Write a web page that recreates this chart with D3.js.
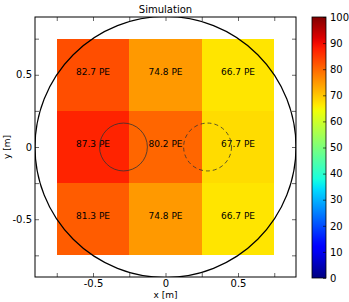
<!DOCTYPE html>
<html>
<head>
<meta charset="utf-8">
<script src="https://cdn.jsdelivr.net/npm/d3@7"></script>
<style>
  body { margin: 0; background: #fff; }
  text { font-family: "DejaVu Sans", sans-serif; }
</style>
</head>
<body>
<div id="chart"></div>
<script>
// cell centres and values
const xCenters = [-0.5, 0, 0.5];
const yCenters = [0.5, 0, -0.5];
const cellValues = [
  [82.7, 74.8, 66.7],
  [87.3, 80.2, 67.7],
  [81.3, 74.8, 66.7]
];
const cellSize = 0.5;
const axisTicks = [-0.75, -0.5, -0.25, 0, 0.25, 0.5, 0.75];
const axisLabels = [-0.5, 0, 0.5];
const cbarTicks = [0, 10, 20, 30, 40, 50, 60, 70, 80, 90, 100];
// circles: [cx, cy, r, dashed]
const circles = [
  [0, 0, 0.9, false],
  [-0.29, 0, 0.165, false],
  [0.29, 0, 0.165, true]
];

const W = 349, H = 302;
const plot = {left: 35, top: 17, right: 296, bottom: 277};

const svg = d3.select("#chart").append("svg")
  .attr("width", W).attr("height", H);

const x = d3.scaleLinear().domain([-0.9, 0.9]).range([plot.left, plot.right]);
const y = d3.scaleLinear().domain([-0.9, 0.9]).range([plot.bottom, plot.top]);

// matplotlib jet colormap
const jetR = d3.scaleLinear().domain([0, 0.35, 0.66, 0.89, 1]).range([0, 0, 1, 1, 0.5]).clamp(true);
const jetG = d3.scaleLinear().domain([0, 0.125, 0.375, 0.64, 0.91, 1]).range([0, 0, 1, 1, 0, 0]).clamp(true);
const jetB = d3.scaleLinear().domain([0, 0.11, 0.34, 0.65, 1]).range([0.5, 1, 1, 0, 0]).clamp(true);
const jet = t => d3.rgb(jetR(t) * 255, jetG(t) * 255, jetB(t) * 255).toString();
const norm = d3.scaleLinear().domain([0, 100]).range([0, 1]);

svg.append("clipPath").attr("id", "clip")
  .append("rect")
  .attr("x", plot.left).attr("y", plot.top)
  .attr("width", plot.right - plot.left).attr("height", plot.bottom - plot.top);

const cells = [];
yCenters.forEach((cy, i) => xCenters.forEach((cx, j) => cells.push({cx, cy, v: cellValues[i][j]})));

const g = svg.append("g").attr("clip-path", "url(#clip)");

g.selectAll("rect.cell").data(cells).join("rect")
  .attr("class", "cell")
  .attr("x", d => x(d.cx - cellSize / 2))
  .attr("y", d => y(d.cy + cellSize / 2))
  .attr("width", d => x(d.cx + cellSize / 2) - x(d.cx - cellSize / 2))
  .attr("height", d => y(d.cy - cellSize / 2) - y(d.cy + cellSize / 2))
  .attr("fill", d => jet(norm(d.v)))
  .attr("shape-rendering", "crispEdges");

g.selectAll("text.val").data(cells).join("text")
  .attr("class", "val")
  .attr("x", d => x(d.cx))
  .attr("y", d => y(d.cy))
  .attr("text-anchor", "middle")
  .attr("font-size", 9)
  .attr("fill", "#000")
  .text(d => d.v.toFixed(1) + " PE");

g.selectAll("circle").data(circles).join("circle")
  .attr("cx", d => x(d[0]))
  .attr("cy", d => y(d[1]))
  .attr("r", d => x(d[2]) - x(0))
  .attr("fill", "none")
  .attr("stroke", (d, i) => i === 0 ? "#000" : "#333")
  .attr("stroke-width", (d, i) => i === 0 ? 1.2 : 0.8)
  .attr("stroke-dasharray", d => d[3] ? "4,3" : null);

// axes with inward ticks on all sides
const fmt = v => axisLabels.includes(v) ? String(v) : "";
const axes = svg.append("g").attr("font-size", 9);
axes.append("g").attr("transform", `translate(0,${plot.bottom})`)
  .call(d3.axisBottom(x).tickValues(axisTicks).tickSize(-4).tickPadding(3).tickFormat(fmt));
axes.append("g").attr("transform", `translate(0,${plot.top})`)
  .call(d3.axisTop(x).tickValues(axisTicks).tickSize(-4).tickFormat(""));
axes.append("g").attr("transform", `translate(${plot.left},0)`)
  .call(d3.axisLeft(y).tickValues(axisTicks).tickSize(-4).tickPadding(3).tickFormat(fmt));
axes.append("g").attr("transform", `translate(${plot.right},0)`)
  .call(d3.axisRight(y).tickValues(axisTicks).tickSize(-4).tickFormat(""));
axes.selectAll(".domain").remove();
axes.selectAll("line").attr("stroke", "#000").attr("stroke-width", 0.6);
axes.selectAll("text").attr("font-family", "DejaVu Sans").attr("fill", "#000");

svg.append("rect")
  .attr("x", plot.left).attr("y", plot.top)
  .attr("width", plot.right - plot.left).attr("height", plot.bottom - plot.top)
  .attr("fill", "none").attr("stroke", "#000").attr("stroke-width", 1);

svg.append("text")
  .attr("x", (plot.left + plot.right) / 2).attr("y", 13)
  .attr("text-anchor", "middle").attr("font-size", 10)
  .text("Simulation");
svg.append("text")
  .attr("x", (plot.left + plot.right) / 2).attr("y", 298)
  .attr("text-anchor", "middle").attr("font-size", 9)
  .text("x [m]");
svg.append("text")
  .attr("transform", `translate(10,${(plot.top + plot.bottom) / 2}) rotate(-90)`)
  .attr("text-anchor", "middle").attr("font-size", 9)
  .text("y [m]");

// colorbar
const cb = {left: 312, right: 326, top: 17, bottom: 278};
const cy = d3.scaleLinear().domain([0, 100]).range([cb.bottom, cb.top]);
const grad = svg.append("defs").append("linearGradient")
  .attr("id", "jetgrad").attr("x1", 0).attr("y1", 1).attr("x2", 0).attr("y2", 0);
grad.selectAll("stop").data(d3.range(0, 1.0001, 0.02)).join("stop")
  .attr("offset", d => d)
  .attr("stop-color", d => jet(d));
svg.append("rect")
  .attr("x", cb.left).attr("y", cb.top)
  .attr("width", cb.right - cb.left).attr("height", cb.bottom - cb.top)
  .attr("fill", "url(#jetgrad)")
  .attr("stroke", "#000").attr("stroke-width", 0.8);
const cbAxis = svg.append("g").attr("transform", `translate(${cb.right},0)`)
  .attr("font-size", 9)
  .call(d3.axisRight(cy).tickValues(cbarTicks).tickSize(-3).tickPadding(4));
cbAxis.select(".domain").remove();
cbAxis.selectAll("line").attr("stroke", "#000").attr("stroke-width", 0.6);
cbAxis.selectAll("text").attr("font-family", "DejaVu Sans").attr("fill", "#000");
</script>
</body>
</html>
